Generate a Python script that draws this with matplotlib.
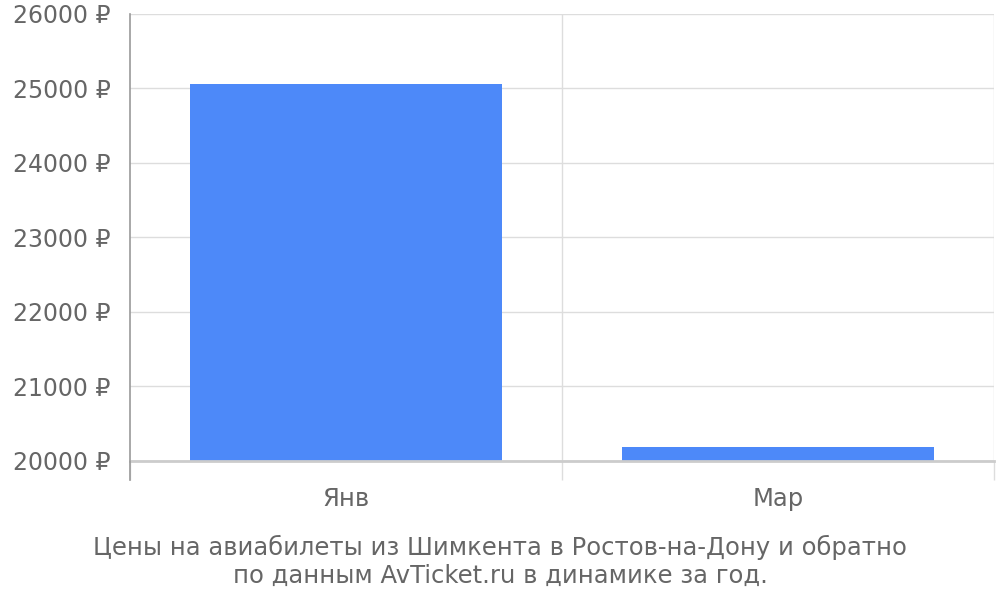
import matplotlib
matplotlib.use('Agg')
import matplotlib.pyplot as plt

plt.rcParams['font.family'] = ['DejaVu Sans']

months = ['Янв', 'Мар']
prices = [25060, 20190]
y_ticks = [20000, 21000, 22000, 23000, 24000, 25000, 26000]
caption = ('Цены на авиабилеты из Шимкента в Ростов-на-Дону и обратно\n'
           'по данным AvTicket.ru в динамике за год.')

text_color = '#666666'

fig = plt.figure(figsize=(10, 6), dpi=100)
ax = fig.add_axes([0.13, 0.2317, 0.864, 0.745])

x = list(range(len(months)))
ax.bar(x, prices, width=0.72, color='#4d89f9', zorder=3)

ax.set_ylim(20000, 26000)
ax.set_xlim(-0.5, len(months) - 0.5)

ax.set_yticks(y_ticks)
ax.set_yticklabels([f'{v} ₽' for v in y_ticks])
ax.tick_params(axis='y', length=0, pad=14, labelsize=17, labelcolor=text_color)
ax.grid(axis='y', color='#dddddd', linewidth=1, zorder=0)

# category boundaries as long ticks, labels in the middle
bounds = [i - 0.5 for i in range(len(months) + 1)]
ax.set_xticks(bounds)
ax.set_xticklabels([''] * len(bounds))
ax.tick_params(axis='x', which='major', length=14, width=1, color='#dddddd')
ax.set_xticks(x, minor=True)
ax.set_xticklabels(months, minor=True)
ax.tick_params(axis='x', which='minor', length=0, pad=19, labelsize=17.5, labelcolor=text_color)
for b in bounds[1:]:
    ax.axvline(b, color='#dddddd', linewidth=1, zorder=0)

for s in ['top', 'right']:
    ax.spines[s].set_visible(False)
ax.spines['left'].set_color('#999999')
ax.spines['left'].set_linewidth(1.2)
ax.spines['bottom'].set_color('#cccccc')
ax.spines['bottom'].set_linewidth(2)
ax.spines['bottom'].set_zorder(4)

# left axis line extends below the plot like the tick marks
ax.plot([-0.5, -0.5], [0, -0.0425], transform=ax.get_xaxis_transform(),
        color='#999999', linewidth=1.2, clip_on=False, zorder=5)

fig.text(0.5, 0.064, caption, ha='center', va='center', fontsize=17.5,
         color=text_color, linespacing=1.2)

plt.savefig('out.png', dpi=100, facecolor='white')
plt.close()
